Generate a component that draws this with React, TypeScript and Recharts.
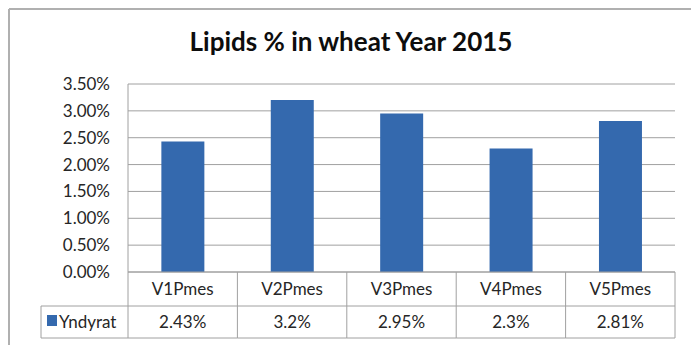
import React from "react";
import { BarChart, Bar, XAxis, YAxis, CartesianGrid } from "recharts";

// Lipid content per variety (percent)
const categories = ["V1Pmes", "V2Pmes", "V3Pmes", "V4Pmes", "V5Pmes"];
const yndyrat = [2.43, 3.2, 2.95, 2.3, 2.81];
const valueLabels = ["2.43%", "3.2%", "2.95%", "2.3%", "2.81%"];
const yTicks = [0, 0.5, 1, 1.5, 2, 2.5, 3, 3.5];
const seriesName = "Yndyrat";
const title = "Lipids % in wheat Year 2015";

const data = categories.map((c, i) => ({ name: c, value: yndyrat[i], label: valueLabels[i] }));

const W = 691;
const H = 345;
const PLOT_LEFT = 128;
const PLOT_RIGHT = 675;
const PLOT_TOP = 84;
const AXIS_H = 73;
const PLOT_BOTTOM = H - AXIS_H;
const ROW1_BOTTOM = 306;
const ROW2_BOTTOM = 338;
const LEGEND_LEFT = 41;
const FONT = "Lato, 'Open Sans', sans-serif";
const FS = 17;
const TEXT = "#262626";
const LINE = "#A0A0A0";
const BAR = "#3469AE";

const step = (PLOT_RIGHT - PLOT_LEFT) / categories.length;

// Data table drawn below the plot; each axis tick draws its own column.
const TableTick = (props: any) => {
  const { x, index, payload } = props;
  const right = x + step / 2;
  const row1Mid = (PLOT_BOTTOM + ROW1_BOTTOM) / 2;
  const row2Mid = (ROW1_BOTTOM + ROW2_BOTTOM) / 2;
  const d = data[index];
  return (
    <g>
      {index === 0 && (
        <g>
          <line x1={PLOT_LEFT} y1={PLOT_BOTTOM} x2={PLOT_LEFT} y2={ROW2_BOTTOM} stroke={LINE} />
          <line x1={LEGEND_LEFT} y1={ROW1_BOTTOM} x2={PLOT_LEFT} y2={ROW1_BOTTOM} stroke={LINE} />
          <line x1={LEGEND_LEFT} y1={ROW2_BOTTOM} x2={PLOT_LEFT} y2={ROW2_BOTTOM} stroke={LINE} />
          <line x1={LEGEND_LEFT} y1={ROW1_BOTTOM} x2={LEGEND_LEFT} y2={ROW2_BOTTOM} stroke={LINE} />
          <rect x={47} y={315} width={10} height={11} fill={BAR} />
          <text x={59} y={row2Mid} dy="0.36em" fontSize={FS} fontFamily={FONT} fill={TEXT}>
            {seriesName}
          </text>
        </g>
      )}
      <line x1={right} y1={PLOT_BOTTOM} x2={right} y2={ROW2_BOTTOM} stroke={LINE} />
      <line x1={x - step / 2} y1={ROW1_BOTTOM} x2={right} y2={ROW1_BOTTOM} stroke={LINE} />
      <line x1={x - step / 2} y1={ROW2_BOTTOM} x2={right} y2={ROW2_BOTTOM} stroke={LINE} />
      <text x={x} y={row1Mid} dy="0.36em" textAnchor="middle" fontSize={FS} fontFamily={FONT} fill={TEXT}>
        {payload.value}
      </text>
      <text x={x} y={row2Mid} dy="0.36em" textAnchor="middle" fontSize={FS} fontFamily={FONT} fill={TEXT}>
        {d.label}
      </text>
    </g>
  );
};

export default function App() {
  return (
    <div style={{ position: "fixed", left: 0, top: 0, width: W, height: H, background: "#fff" }}>
      <svg width={W} height={H} style={{ position: "absolute", left: 0, top: 0 }}>
        <line x1={9} y1={9} x2={W} y2={9} stroke="#B0B0B0" strokeWidth={2} />
        <line x1={9} y1={9} x2={9} y2={H} stroke="#B0B0B0" strokeWidth={2} />
        <text x={351} y={51} textAnchor="middle" fontSize={26} fontWeight={700} fontFamily={FONT} fill="#0d0d0d">
          {title}
        </text>
      </svg>
      <div style={{ position: "absolute", left: 0, top: 0 }}>
        <BarChart
          width={W}
          height={H}
          data={data}
          margin={{ top: PLOT_TOP, right: W - PLOT_RIGHT, left: 0, bottom: 0 }}
          barCategoryGap="30.5%"
        >
          <CartesianGrid vertical={false} stroke={LINE} />
          <XAxis
            dataKey="name"
            height={AXIS_H}
            axisLine={{ stroke: LINE }}
            tickLine={false}
            tick={<TableTick />}
            interval={0}
          />
          <YAxis
            width={PLOT_LEFT}
            domain={[0, 3.5]}
            ticks={yTicks}
            tickFormatter={(v: number) => v.toFixed(2) + "%"}
            axisLine={{ stroke: LINE }}
            tickLine={false}
            tickSize={0}
            tickMargin={18}
            tick={{ fontSize: FS, fontFamily: FONT, fill: TEXT }}
          />
          <Bar dataKey="value" fill={BAR} isAnimationActive={false} />
        </BarChart>
      </div>
    </div>
  );
}
